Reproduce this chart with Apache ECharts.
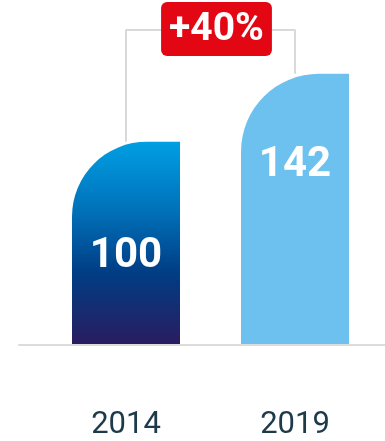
<!DOCTYPE html>
<html>
<head>
<meta charset="utf-8">
<script src="https://cdn.jsdelivr.net/npm/echarts@6/dist/echarts.min.js"></script>
<style>
  html, body { margin: 0; padding: 0; background: #ffffff; }
  #chart { width: 385px; height: 441px; }
</style>
</head>
<body>
<div id="chart"></div>
<script>
// Index values, 2014 = 100
const years = ['2014', '2019'];
const indexValues = [100, 142];
const growthLabel = '+40%';

// Value range of the hidden value axis and the level of the bracket joining the bars
const axisMin = -25;
const bracketLevel = 169;

const chart = echarts.init(document.getElementById('chart'), null, { renderer: 'canvas' });

const font = 'Roboto, "Noto Sans", sans-serif';

const earlyFill = new echarts.graphic.LinearGradient(0, 0, 0, 1, [
  { offset: 0, color: '#009fe3' },
  { offset: 0.35, color: '#0070b8' },
  { offset: 0.65, color: '#003d84' },
  { offset: 1, color: '#2a1c5f' }
]);
const lateFill = '#6dc1ee';

const bracketPoints = [
  [years[0], indexValues[0]],
  [years[0], bracketLevel],
  [years[1], bracketLevel],
  [years[1], indexValues[1]]
];

chart.setOption({
  animation: false,
  backgroundColor: '#ffffff',
  grid: [
    { left: 41.5, right: 5.5, top: 30, bottom: 96 },
    { left: 19, right: 0, bottom: 96, height: 1 }
  ],
  xAxis: [
    {
      type: 'category',
      gridIndex: 0,
      data: years,
      axisLine: { show: false },
      axisTick: { show: false },
      axisLabel: {
        margin: 66,
        fontFamily: font,
        fontSize: 31,
        lineHeight: 31,
        color: '#1d3a4b'
      }
    },
    {
      type: 'value',
      gridIndex: 1,
      axisLine: { show: true, lineStyle: { color: '#dcdcdc', width: 2 } },
      axisTick: { show: false },
      axisLabel: { show: false },
      splitLine: { show: false }
    }
  ],
  yAxis: [
    {
      type: 'value',
      gridIndex: 0,
      min: axisMin,
      max: bracketLevel,
      startValue: axisMin,
      show: false,
      splitLine: { show: false }
    },
    { type: 'value', gridIndex: 1, show: false }
  ],
  series: [
    {
      type: 'line',
      xAxisIndex: 0,
      yAxisIndex: 0,
      data: bracketPoints,
      symbol: 'none',
      clip: false,
      z: 1,
      lineStyle: { color: '#d9d9d9', width: 2 },
      markLine: {
        symbol: 'none',
        silent: true,
        lineStyle: { color: 'rgba(0,0,0,0)', width: 1 },
        label: {
          show: true,
          position: 'middle',
          offset: [6, 31],
          formatter: growthLabel,
          backgroundColor: '#e30613',
          borderRadius: 6,
          padding: [8, 8, 6, 8],
          color: '#ffffff',
          fontFamily: font,
          fontWeight: 'bold',
          fontSize: 39,
          lineHeight: 40
        },
        data: [[{ coord: [years[0], bracketLevel] }, { coord: [years[1], bracketLevel] }]]
      }
    },
    {
      type: 'bar',
      xAxisIndex: 0,
      yAxisIndex: 0,
      barWidth: 108,
      z: 2,
      data: [
        {
          value: indexValues[0],
          itemStyle: { color: earlyFill, borderRadius: [75, 0, 0, 0] },
          label: { position: 'inside', offset: [0, 13.5] }
        },
        {
          value: indexValues[1],
          itemStyle: { color: lateFill, borderRadius: [78, 0, 0, 0] },
          label: { position: 'insideTop', distance: 71 }
        }
      ],
      label: {
        show: true,
        color: '#ffffff',
        fontFamily: font,
        fontWeight: 'bold',
        fontSize: 42,
        lineHeight: 42
      }
    }
  ]
});
</script>
</body>
</html>
